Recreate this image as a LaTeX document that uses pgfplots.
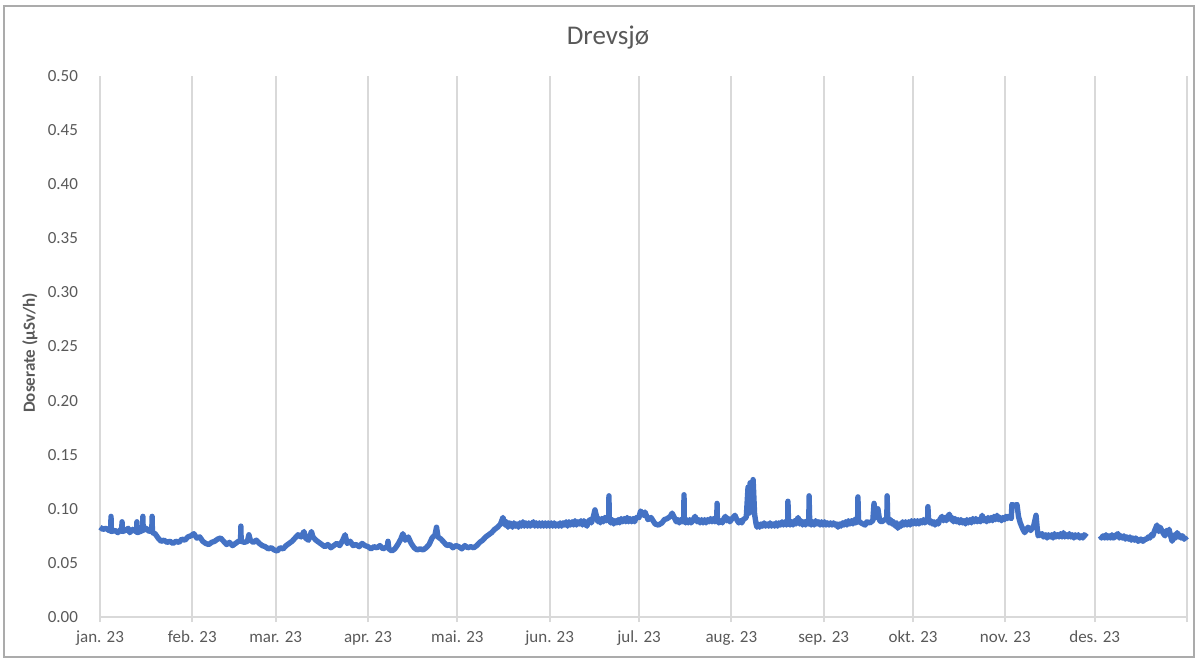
\documentclass[border=0pt]{standalone}
\usepackage{fontspec}
\setmainfont{Carlito}
\usepackage{pgfplots}
\pgfplotsset{compat=1.18}
\definecolor{xlblue}{HTML}{4472C4}
\definecolor{txtgray}{HTML}{595959}
\definecolor{gridgray}{HTML}{D9D9D9}
\definecolor{framegray}{HTML}{ABABAB}
\begin{document}
\begin{tikzpicture}
\useasboundingbox (0,0) rectangle (599pt,330pt);
\draw[framegray, line width=0.75pt] (2pt,1.5pt) rectangle (597pt,327pt);
\node[txtgray, font=\fontsize{13.5}{16}\selectfont] at (304pt,311pt) {Drevsjø};
\node[txtgray, rotate=90, font=\fontsize{8.5}{10}\selectfont\bfseries] at (15pt,153.5pt) {Doserate (µSv/h)};
\begin{axis}[
  at={(50pt,21.5pt)}, anchor=south west,
  scale only axis, width=543.5pt, height=270.5pt,
  xmin=0, xmax=365, ymin=0, ymax=0.5,
  axis lines=left, axis line style={-},
  y axis line style={draw=none},
  x axis line style={gridgray, line width=1pt},
  xtick={0,31,59,90,120,151,181,212,243,273,304,334,365},
  xticklabels={jan. 23,feb. 23,mar. 23,apr. 23,mai. 23,jun. 23,jul. 23,aug. 23,sep. 23,okt. 23,nov. 23,des. 23,},
  ytick={0,0.05,...,0.51},
  xmajorgrids, major grid style={gridgray, line width=1pt},
  tick align=outside, major tick length=2.5pt,
  xtick style={gridgray, line width=1pt},
  ytick style={draw=none},
  ticklabel style={txtgray, font=\fontsize{8.5}{10}\selectfont},
  yticklabel style={/pgf/number format/fixed, /pgf/number format/fixed zerofill,
    /pgf/number format/precision=2, /pgf/number format/assume math mode=true,
    anchor=east, xshift=-5pt},
  xticklabel style={anchor=north, yshift=-1pt},
  clip=false,
]
\addplot[xlblue, line width=2.7pt, line join=round] coordinates {
(0,0.083)(1,0.081)(2,0.082)(3,0.080)(3.6,0.080)(3.7,0.093)(3.8,0.079)(5,0.080)(6,0.078)(7,0.081)
(7.3,0.080)(7.4,0.088)(7.5,0.079)(8.5,0.080)(9.5,0.082)(10,0.078)(11,0.081)(12,0.079)(12.3,0.080)(12.4,0.088)
(12.5,0.078)(13.5,0.079)(14.3,0.080)(14.4,0.093)(14.5,0.080)(15.5,0.082)(16.5,0.079)(17.4,0.080)(17.5,0.093)(17.6,0.078)
(18.5,0.077)(19.5,0.073)(20.5,0.070)(21.5,0.071)(22.5,0.069)(23.5,0.070)(24.5,0.068)(25.5,0.070)(26.5,0.069)(27.5,0.072)
(28.5,0.071)(29.5,0.074)(30.5,0.075)(31.5,0.077)
(32.5,0.073)(33.5,0.074)(34.5,0.070)(35.5,0.068)(36.5,0.067)(37.5,0.069)(38.5,0.070)(39.5,0.072)(40.5,0.073)(41.5,0.070)
(42.5,0.067)(43.5,0.069)(44.5,0.066)(45.5,0.068)(46.5,0.070)(47.2,0.070)(47.3,0.084)(47.4,0.070)(48.5,0.069)(49.5,0.070)
(50,0.076)(50.5,0.071)(51.5,0.069)(52.5,0.071)(53.5,0.068)(54.5,0.066)(55.5,0.065)(56.5,0.063)(57.5,0.064)(58.5,0.062)
(59.5,0.061)(60.5,0.064)(61.5,0.063)(62.5,0.066)(63.5,0.068)(64.5,0.070)(65.5,0.073)(66.5,0.076)(67.5,0.074)(68.5,0.079)
(69,0.073)(70,0.071)(71,0.079)(71.5,0.074)(72.5,0.071)(73.5,0.069)(74.5,0.067)(75.5,0.065)(76.5,0.067)(77.5,0.064)
(78.5,0.066)(79.5,0.068)(80.5,0.066)(81.5,0.071)(82.3,0.076)(83,0.068)(84,0.070)(85,0.066)(86,0.067)(87,0.065)
(88,0.068)(89,0.066)
(90,0.065)(91,0.063)(92,0.065)(93,0.064)(94,0.066)(95,0.063)(96.5,0.065)(96.7,0.070)(97,0.063)(98,0.061)
(99,0.063)(100,0.067)(101,0.072)(101.7,0.077)(102.5,0.071)(103.5,0.074)(104.5,0.068)(105.5,0.064)(106.5,0.062)(107.5,0.063)
(108.5,0.062)(109.5,0.064)(110.5,0.067)(111.5,0.073)(112.5,0.076)(113,0.083)(113.5,0.074)(114.5,0.072)(115.5,0.069)(116.5,0.066)
(117.5,0.067)(118.5,0.064)(119.5,0.066)
(120.5,0.065)(121.5,0.063)(122.5,0.066)(123.5,0.064)(124.5,0.065)(125.5,0.064)(126.5,0.066)(127.5,0.069)(128.5,0.071)(129.5,0.074)
(130.5,0.076)(131.5,0.078)(132.5,0.081)(133.5,0.083)(134.5,0.086)(135.3,0.092)
(136,0.085)(136.5,0.088)(137,0.083)(137.5,0.087)(138,0.086)(138.5,0.083)(139,0.087)(139.5,0.084)(140,0.086)(140.5,0.083)
(141,0.087)(141.5,0.084)(142,0.088)(142.5,0.084)(143,0.087)(143.5,0.084)(144,0.087)(144.5,0.084)(145,0.086)(145.5,0.088)
(146,0.084)(146.5,0.087)(147,0.084)(147.5,0.087)(148,0.084)(148.5,0.087)(149,0.084)(149.5,0.087)(150,0.084)(150.5,0.087)
(151,0.084)(151.5,0.087)(152,0.084)(152.5,0.087)(153,0.084)(153.5,0.086)(154,0.084)(154.5,0.087)(155,0.084)(155.5,0.087)
(156,0.085)(156.5,0.088)(157,0.084)(157.5,0.088)(158,0.085)(158.5,0.088)(159,0.085)(159.5,0.089)(160,0.085)(160.5,0.088)
(161,0.086)(161.5,0.089)(162,0.085)(162.5,0.089)(163,0.086)(163.5,0.084)(164,0.088)(164.5,0.090)(165,0.087)(165.5,0.091)
(166.2,0.099)(166.8,0.092)(167.2,0.088)(167.6,0.091)(168,0.087)(168.5,0.091)(169,0.088)(169.5,0.092)(170,0.089)(170.5,0.093)
(170.8,0.091)(170.9,0.112)(171,0.090)(171.5,0.087)(172,0.090)(172.5,0.086)(173,0.089)(173.5,0.087)(174,0.090)(174.5,0.087)
(175,0.091)(175.5,0.088)(176,0.091)(176.5,0.088)(177,0.092)(177.5,0.088)(178,0.091)(178.5,0.088)(179,0.091)(179.5,0.088)
(180,0.092)
(181,0.092)(181.5,0.098)(182.5,0.094)(183,0.097)(184,0.090)(185,0.092)(186.4,0.086)(187.5,0.085)(188.7,0.087)(189.5,0.090)
(190.5,0.091)(191.5,0.093)(192.1,0.096)(193,0.091)(193.5,0.088)(194,0.090)(194.5,0.087)(195,0.090)(195.5,0.088)(196,0.089)(196.1,0.113)(196.2,0.089)(196.6,0.087)(197,0.090)
(197.5,0.087)(198,0.090)(198.5,0.087)(199,0.089)(199.8,0.093)(200.5,0.088)(201,0.090)(201.5,0.087)(202,0.090)(202.5,0.087)(203,0.090)(203.5,0.087)(204,0.090)(204.5,0.088)(205,0.091)(205.5,0.088)(206,0.091)(206.5,0.088)
(207.1,0.090)(207.2,0.105)(207.3,0.090)(207.8,0.087)(208.5,0.089)(209,0.087)(209.5,0.091)(210,0.093)(210.5,0.089)(211,0.091)(211.5,0.088)(212,0.090)
(213.2,0.094)(214,0.089)(214.5,0.087)(215,0.089)(215.5,0.087)(216,0.090)(217,0.092)(217.6,0.120)(218,0.096)(218.3,0.124)(219,0.110)(219.3,0.127)
(219.8,0.095)(220.3,0.086)(220.6,0.083)(221,0.086)(221.5,0.083)(222,0.086)(222.5,0.084)(223,0.087)(223.5,0.084)(224,0.086)
(224.5,0.084)(225,0.087)(225.5,0.084)(226,0.086)(226.5,0.084)(227,0.087)(227.5,0.084)(228,0.087)(228.5,0.085)(229,0.088)
(229.5,0.085)(230,0.088)(230.5,0.085)(230.9,0.087)(231,0.107)(231.2,0.088)(231.7,0.085)(232.2,0.088)(232.7,0.085)(233.2,0.089)
(233.7,0.086)(234.4,0.092)(234.9,0.086)(235.4,0.089)(235.9,0.085)(236.4,0.088)(236.9,0.085)(237.4,0.089)(238,0.086)(238.1,0.112)
(238.3,0.088)(238.8,0.085)(239.3,0.088)(239.8,0.085)(240.3,0.089)(240.8,0.086)(241.3,0.088)(241.8,0.085)(242.3,0.088)(242.8,0.085)
(243.3,0.088)(243.8,0.085)(244.3,0.087)(244.8,0.085)(245.3,0.087)(245.8,0.085)(246.3,0.087)(246.8,0.085)(247.3,0.086)(247.8,0.083)
(248.3,0.086)(248.8,0.084)(249.3,0.087)(249.8,0.085)(250.3,0.088)(250.8,0.085)(251.3,0.089)(251.8,0.086)(252.3,0.089)(252.8,0.086)
(253.3,0.090)(253.8,0.087)(254.4,0.089)
(254.5,0.111)(254.7,0.089)(255.5,0.087)(256.9,0.085)(257.5,0.088)(258.5,0.087)(259.5,0.089)(259.9,0.105)(260.5,0.092)(261.2,0.100)
(261.8,0.089)(262.5,0.088)(263.5,0.090)(264.2,0.090)(264.3,0.112)
(264.5,0.091)(265,0.087)(265.5,0.090)(266,0.086)(266.5,0.088)(267,0.084)(267.5,0.087)(267.9,0.082)(268.5,0.086)(269,0.084)
(269.5,0.088)(270,0.085)(270.5,0.088)(271,0.085)(271.5,0.088)(272,0.085)(272.5,0.089)(273,0.086)(273.5,0.089)(274,0.086)
(274.5,0.089)(275,0.086)(275.5,0.089)(276,0.087)(276.5,0.090)(277,0.087)(277.5,0.089)(277.9,0.090)(278,0.102)(278.2,0.090)
(278.6,0.087)(279,0.089)(279.5,0.086)(280,0.088)(280.4,0.085)(281,0.088)(281.5,0.086)(282,0.090)(282.7,0.093)(283.2,0.089)
(283.7,0.092)(284.2,0.089)(284.7,0.093)(285.2,0.095)(285.7,0.090)(286.1,0.092)(286.6,0.088)(287.1,0.091)(287.6,0.088)(288.1,0.090)
(288.6,0.087)(289.1,0.090)(289.6,0.087)(290.1,0.089)(290.6,0.086)(291.1,0.090)(291.6,0.087)(292.1,0.090)(292.6,0.087)(293.1,0.091)
(293.6,0.088)(294.1,0.091)(294.6,0.088)(295.1,0.090)(295.6,0.088)(296.2,0.094)(296.7,0.089)(297.2,0.091)(297.7,0.088)(298.2,0.092)
(298.7,0.089)(299.2,0.092)(299.7,0.089)(300.2,0.093)(300.7,0.090)(301.2,0.094)(301.7,0.090)(302.2,0.092)(302.7,0.089)(303.2,0.092)
(303.7,0.090)(304.2,0.093)(304.7,0.091)
(305,0.093)(306,0.091)(306.2,0.104)(307,0.103)(307.9,0.104)(308.4,0.093)(309,0.087)(309.9,0.081)(310.5,0.078)(311.6,0.083)
(312.5,0.080)(313.5,0.084)(314.3,0.094)(314.7,0.082)(315,0.075)(316.3,0.077)(316.8,0.074)(317.5,0.076)(318,0.073)(318.5,0.076)
(319,0.074)(319.5,0.076)(320,0.073)(320.5,0.077)(321,0.074)(321.5,0.076)(322,0.074)(322.5,0.077)(323,0.074)(323.5,0.078)
(324,0.074)(324.5,0.076)(325,0.074)(325.5,0.077)(326,0.074)(326.5,0.076)(327,0.073)(327.5,0.076)(328,0.074)(328.5,0.076)
(329,0.073)(329.5,0.075)(330,0.073)(330.5,0.076)(331.4,0.074)
};
\addplot[xlblue, line width=2.7pt, line join=round] coordinates {
(335.8,0.075)(336.3,0.073)(336.8,0.075)(337.3,0.073)(337.8,0.076)(338.3,0.073)(338.8,0.075)(339.3,0.073)(339.8,0.076)(340.3,0.073)
(340.8,0.074)(341.3,0.076)(341.8,0.077)(342.3,0.073)(342.8,0.075)(343.3,0.073)(343.8,0.075)(344.3,0.072)(344.8,0.074)(345.3,0.072)
(345.8,0.074)(346.3,0.071)(346.8,0.073)(347.3,0.071)(347.8,0.073)(348.6,0.070)(349.5,0.072)(350.2,0.070)(350.9,0.072)(351.5,0.072)
(352,0.074)(352.5,0.073)(353,0.076)(353.5,0.075)(354,0.079)(354.9,0.085)
(355.5,0.079)(356,0.083)(356.5,0.080)(357.1,0.077)(357.6,0.075)(358.1,0.080)(358.5,0.078)(359,0.081)(359.3,0.077)(360,0.070)
(360.4,0.074)(360.8,0.076)(361.2,0.073)(361.7,0.078)(362.2,0.074)(362.5,0.076)(363,0.073)(363.5,0.075)(364,0.072)(364.3,0.073)
(364.9,0.071)
};
\end{axis}
\end{tikzpicture}
\end{document}
